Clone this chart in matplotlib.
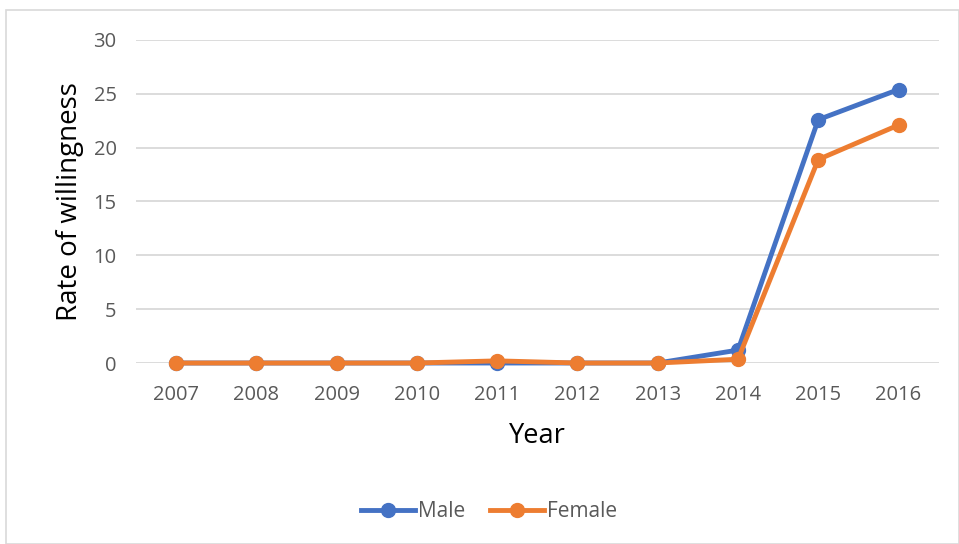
import matplotlib.pyplot as plt
from matplotlib.patches import Rectangle

years = ["2007", "2008", "2009", "2010", "2011", "2012", "2013", "2014", "2015", "2016"]
male = [0, 0, 0, 0, 0, 0, 0, 1.2, 22.6, 25.4]
female = [0, 0, 0, 0, 0.2, 0, 0, 0.35, 18.9, 22.1]

blue = "#4472C4"
orange = "#ED7D31"
grey = "#595959"

plt.rcParams['font.family'] = ['Open Sans', 'DejaVu Sans']

fig = plt.figure(figsize=(9.59, 5.44), dpi=100)
fig.patches.append(Rectangle((0.006, 0.0), 0.994, 0.982, transform=fig.transFigure,
                             fill=False, edgecolor="#d9d9d9", linewidth=1.2))
ax = fig.add_axes([0.1418, 0.3327, 0.837, 0.5938])

x = list(range(len(years)))
ax.plot(x, male, color=blue, lw=3.5, marker="o", ms=10, label="Male", zorder=3)
ax.plot(x, female, color=orange, lw=3.5, marker="o", ms=10, label="Female", zorder=4)

ax.set_xlim(-0.5, len(years) - 0.5)
ax.set_ylim(0, 30)
ax.set_yticks(range(0, 31, 5))
ax.set_xticks(x)
ax.set_xticklabels(years)
ax.yaxis.grid(True, color="#d9d9d9", lw=1.3)
ax.set_axisbelow(True)
for s in ax.spines.values():
    s.set_visible(False)
ax.tick_params(axis="both", length=0, colors=grey, labelsize=14.5)
ax.tick_params(axis="x", pad=16)
ax.tick_params(axis="y", pad=14)
for line in ax.lines:
    line.set_clip_on(False)

ax.set_xlabel("Year", fontsize=19.5, color="black", labelpad=12)
ax.set_ylabel("Rate of willingness", fontsize=20, color="black", labelpad=7)

fig.legend(loc="center", bbox_to_anchor=(0.51, 0.06), ncol=2, frameon=False,
           fontsize=15, labelcolor=grey, handlelength=2.6, handletextpad=0.15,
           columnspacing=1.2)

fig.savefig("out.png", dpi=100)
